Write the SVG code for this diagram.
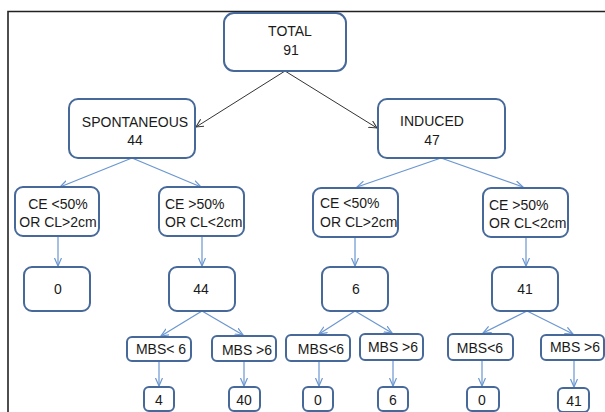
<svg xmlns="http://www.w3.org/2000/svg" width="605" height="412" viewBox="0 0 605 412">
<defs>
<style>
.box{fill:#fff;stroke:#46699a;stroke-width:2}
.t{font-family:"Liberation Sans",Arial,sans-serif;font-size:14px;fill:#1a1a1a}
.m{text-anchor:middle}
.bk{stroke:#333;stroke-width:1;fill:none}
.bl{stroke:#6a96d0;stroke-width:1.2;fill:none}
</style>
<marker id="ak" markerWidth="10" markerHeight="10" refX="8" refY="4" orient="auto" markerUnits="userSpaceOnUse"><path d="M0,0 L8,4 L0,8" fill="none" stroke="#333" stroke-width="1"/></marker>
<marker id="ab" markerWidth="10" markerHeight="10" refX="8" refY="4" orient="auto" markerUnits="userSpaceOnUse"><path d="M0,0.5 L8,4 L0,7.5" fill="none" stroke="#6a96d0" stroke-width="1.2"/></marker>
</defs>
<rect width="605" height="412" fill="#fff"/>
<path d="M8,412 V11.5 H605" fill="none" stroke="#222" stroke-width="1.6"/>
<g id="connectors">
<line class="bk" x1="285" y1="71" x2="196" y2="127" marker-end="url(#ak)"/>
<line class="bk" x1="285" y1="71" x2="377" y2="128" marker-end="url(#ak)"/>
<line class="bl" x1="132" y1="158" x2="60" y2="187" marker-end="url(#ab)"/>
<line class="bl" x1="132" y1="158" x2="201" y2="187" marker-end="url(#ab)"/>
<line class="bl" x1="441" y1="158" x2="357" y2="187" marker-end="url(#ab)"/>
<line class="bl" x1="441" y1="158" x2="523" y2="187" marker-end="url(#ab)"/>
<line class="bl" x1="58" y1="236" x2="58" y2="266" marker-end="url(#ab)"/>
<line class="bl" x1="202" y1="236" x2="202" y2="266" marker-end="url(#ab)"/>
<line class="bl" x1="355" y1="237" x2="355" y2="266" marker-end="url(#ab)"/>
<line class="bl" x1="526" y1="237" x2="526" y2="266" marker-end="url(#ab)"/>
<line class="bl" x1="202" y1="311" x2="161" y2="336" marker-end="url(#ab)"/>
<line class="bl" x1="202" y1="311" x2="243" y2="335" marker-end="url(#ab)"/>
<line class="bl" x1="355" y1="311" x2="319" y2="334" marker-end="url(#ab)"/>
<line class="bl" x1="355" y1="311" x2="392" y2="333" marker-end="url(#ab)"/>
<line class="bl" x1="527" y1="311" x2="483" y2="333" marker-end="url(#ab)"/>
<line class="bl" x1="527" y1="311" x2="573" y2="334" marker-end="url(#ab)"/>
<line class="bl" x1="159" y1="361" x2="159" y2="386" marker-end="url(#ab)"/>
<line class="bl" x1="244" y1="361" x2="244" y2="386" marker-end="url(#ab)"/>
<line class="bl" x1="319" y1="361" x2="319" y2="386" marker-end="url(#ab)"/>
<line class="bl" x1="393" y1="360" x2="393" y2="386" marker-end="url(#ab)"/>
<line class="bl" x1="482" y1="360" x2="482" y2="386" marker-end="url(#ab)"/>
<line class="bl" x1="574" y1="360" x2="574" y2="387" marker-end="url(#ab)"/>
</g>
<g id="total"><rect class="box" x="224" y="13" width="122" height="58" rx="10"/><text class="t m" x="290" y="36">TOTAL</text><text class="t m" x="291" y="55">91</text></g>
<g id="spontaneous"><rect class="box" x="69" y="99" width="126" height="59" rx="9"/><text class="t m" x="135" y="127">SPONTANEOUS</text><text class="t m" x="135" y="145">44</text></g>
<g id="induced"><rect class="box" x="378" y="99" width="127" height="59" rx="9"/><text class="t m" x="432" y="126">INDUCED</text><text class="t m" x="432" y="145">47</text></g>
<g id="s-ce-lt"><rect class="box" x="15" y="187" width="84" height="49" rx="8"/><text class="t m" x="58" y="209">CE &lt;50%</text><text class="t m" x="58" y="227">OR CL&gt;2cm</text></g>
<g id="s-ce-gt"><rect class="box" x="159" y="187" width="85" height="49" rx="8"/><text class="t" x="165" y="209">CE &gt;50%</text><text class="t" x="165" y="227">OR CL&lt;2cm</text></g>
<g id="i-ce-lt"><rect class="box" x="313" y="188" width="85" height="49" rx="8"/><text class="t" x="320" y="208">CE &lt;50%</text><text class="t" x="320" y="227">OR CL&gt;2cm</text></g>
<g id="i-ce-gt"><rect class="box" x="483" y="188" width="85" height="49" rx="8"/><text class="t" x="489" y="210">CE &gt;50%</text><text class="t" x="489" y="228">OR CL&lt;2cm</text></g>
<g id="n0"><rect class="box" x="24" y="267" width="66" height="44" rx="8"/><text class="t m" x="58" y="294">0</text></g>
<g id="n44"><rect class="box" x="169" y="267" width="66" height="44" rx="8"/><text class="t m" x="201" y="294">44</text></g>
<g id="n6"><rect class="box" x="322" y="267" width="66" height="44" rx="8"/><text class="t m" x="356" y="294">6</text></g>
<g id="n41"><rect class="box" x="492" y="267" width="66" height="44" rx="8"/><text class="t m" x="525" y="294">41</text></g>
<g id="m1"><rect class="box" x="127" y="337" width="64" height="24" rx="5"/><text class="t m" x="161" y="354">MBS&lt; 6</text></g>
<g id="m2"><rect class="box" x="212" y="336" width="64" height="25" rx="5"/><text class="t m" x="247" y="355">MBS &gt;6</text></g>
<g id="m3"><rect class="box" x="286" y="335" width="64" height="26" rx="5"/><text class="t m" x="321" y="354">MBS&lt;6</text></g>
<g id="m4"><rect class="box" x="360" y="334" width="63" height="26" rx="5"/><text class="t m" x="393" y="352">MBS &gt;6</text></g>
<g id="m5"><rect class="box" x="448" y="334" width="65" height="26" rx="5"/><text class="t m" x="480" y="353">MBS&lt;6</text></g>
<g id="m6"><rect class="box" x="541" y="335" width="63" height="25" rx="5"/><text class="t m" x="575" y="352">MBS &gt;6</text></g>
<g id="b4"><rect class="box" x="144" y="387" width="30" height="24" rx="5"/><text class="t m" x="159" y="405">4</text></g>
<g id="b40"><rect class="box" x="229" y="387" width="31" height="24" rx="5"/><text class="t m" x="244" y="405">40</text></g>
<g id="b0a"><rect class="box" x="303" y="387" width="30" height="24" rx="5"/><text class="t m" x="318" y="405">0</text></g>
<g id="b6"><rect class="box" x="378" y="387" width="30" height="24" rx="5"/><text class="t m" x="393" y="405">6</text></g>
<g id="b0b"><rect class="box" x="467" y="387" width="32" height="24" rx="5"/><text class="t m" x="482" y="405">0</text></g>
<g id="b41"><rect class="box" x="558" y="388" width="31" height="24" rx="5"/><text class="t m" x="574" y="406">41</text></g>
</svg>
